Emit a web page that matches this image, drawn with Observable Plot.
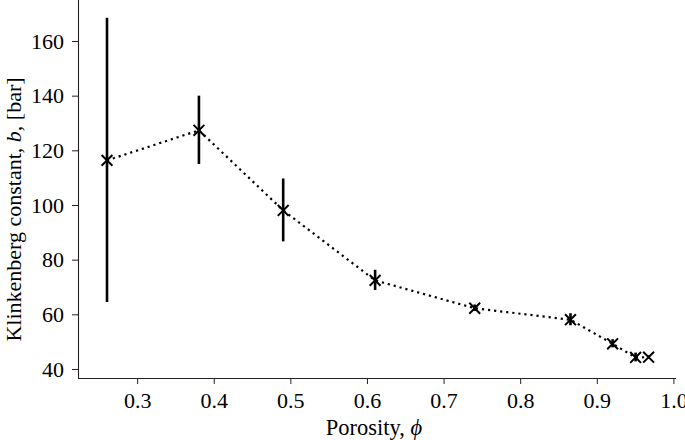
<!DOCTYPE html>
<html><head><meta charset="utf-8">
<script src="https://cdn.jsdelivr.net/npm/d3@7"></script>
<script src="https://cdn.jsdelivr.net/npm/@observablehq/plot@0.6"></script>
<style>body{margin:0;background:#fff}</style>
</head><body><div id="chart"></div>
<script>
const porosity = [0.26, 0.38, 0.49, 0.61, 0.74, 0.865, 0.92, 0.95, 0.967];
const klinkenberg = [116.5, 127.5, 98.2, 72.6, 62.4, 58.2, 49.4, 44.4, 44.5];
const klinkErr = [52, 12.5, 11.5, 3.7, 1.2, 2.2, 1.5, 1.6, 0.5];
const xTicks = [0.3, 0.4, 0.5, 0.6, 0.7, 0.8, 0.9, 1.0];
const yTicks = [40, 60, 80, 100, 120, 140, 160];
const xLabel = "Porosity, ϕ";
const yLabel = "Klinkenberg constant, b, [bar]";

const data = porosity.map((p, i) => ({
  phi: p, b: klinkenberg[i],
  lo: klinkenberg[i] - klinkErr[i], hi: klinkenberg[i] + klinkErr[i]
}));

const xDomain = [0.2228, 1.0034];
const yDomain = [36.7, 175];
const font = "Liberation Serif";

const plot = Plot.plot({
  width: 685, height: 440,
  marginLeft: 78, marginRight: 9, marginTop: 0, marginBottom: 62,
  style: {fontFamily: font, fontSize: "22px", color: "#000", background: "#fff", overflow: "visible"},
  x: {domain: xDomain},
  y: {domain: yDomain},
  marks: [
    Plot.axisX({ticks: xTicks, tickFormat: d3.format(".1f"), tickSize: 6, tickPadding: 8, label: null, stroke: "#222", fontFamily: font, fontSize: 22}),
    Plot.axisY({ticks: yTicks, tickSize: 6, tickPadding: 8.5, label: null, stroke: "#222", fontFamily: font, fontSize: 22}),
    Plot.ruleY([yDomain[0]], {stroke: "#222", strokeWidth: 1.1}),
    Plot.ruleX([xDomain[0]], {stroke: "#222", strokeWidth: 1.1}),
    Plot.line(data, {x: "phi", y: "b", stroke: "#000", strokeWidth: 2.2, strokeDasharray: "2.2,3.9", strokeLinecap: "butt"}),
    Plot.ruleX(data, {x: "phi", y1: "lo", y2: "hi", stroke: "#000", strokeWidth: 2.6}),
    Plot.dot(data, {x: "phi", y: "b", symbol: "times", r: 5, stroke: "#000", strokeWidth: 2}),
    Plot.text([xLabel], {text: d => d, frameAnchor: "bottom", textAnchor: "middle", lineAnchor: "bottom", dy: 56, dx: -3.5, fill: "#000", fontFamily: font, fontSize: 22.5}),
    Plot.text([yLabel], {text: d => d, frameAnchor: "left", textAnchor: "middle", lineAnchor: "bottom", rotate: -90, dx: -58, dy: 20, fill: "#000", fontFamily: font, fontSize: 22})
  ]
});

// italic math symbols in the axis labels
const svgNS = "http://www.w3.org/2000/svg";
function styleLabel(el, parts) {
  el.textContent = "";
  for (const [txt, ital] of parts) {
    const t = document.createElementNS(svgNS, "tspan");
    t.textContent = txt;
    if (ital) t.setAttribute("font-style", "italic");
    el.appendChild(t);
  }
}
plot.querySelectorAll("text").forEach(t => {
  if (t.textContent === yLabel) styleLabel(t, [["Klinkenberg constant, ", false], ["b", true], [", [bar]", false]]);
  else if (t.textContent === xLabel) styleLabel(t, [["Porosity, ", false], ["ϕ", true]]);
});

document.getElementById("chart").appendChild(plot);
</script>
</body></html>
